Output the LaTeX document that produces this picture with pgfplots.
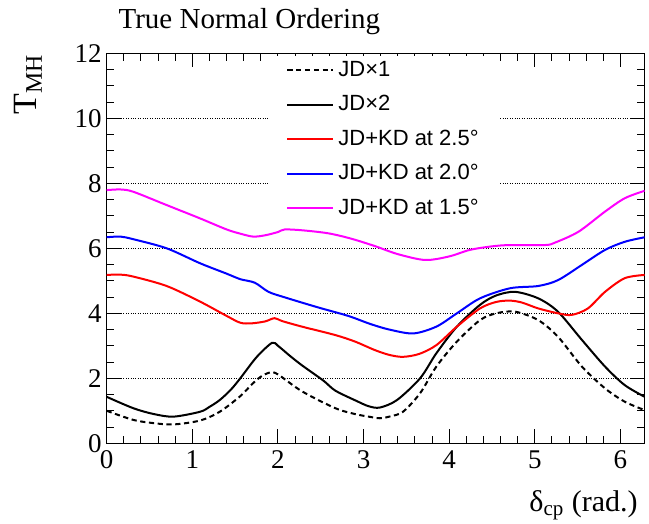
\documentclass[border=0pt]{standalone}
\usepackage{fontspec}
\setmainfont{Liberation Serif}
\newfontfamily\legendfont{Liberation Sans}
\usepackage{pgfplots}
\pgfplotsset{compat=1.18}
\definecolor{rootmagenta}{rgb}{1,0,1}

\begin{document}
\begin{tikzpicture}
\begin{axis}[
    scale only axis,
    width=269pt, height=195pt,
    xmin=0, xmax=6.2832,
    ymin=0, ymax=12,
    xtick={0,1,2,3,4,5,6},
    ytick={0,2,4,6,8,10,12},
    minor x tick num=4,
    minor y tick num=3,
    tick align=inside,
    xtick pos=both, ytick pos=both,
    major tick length=7pt,
    minor tick length=3.8pt,
    every tick/.style={black, line width=0.5pt},
    axis line style={line width=0.6pt},
    /pgf/number format/assume math mode=true,
    tick label style={font=\fontsize{13.5}{16}\selectfont},
    yticklabel style={xshift=1pt},
    ymajorgrids,
    grid style={black, line width=0.4pt, dash pattern=on 0.5pt off 0.7pt},
    title={True Normal Ordering},
    title style={at={(axis description cs:0.009,1.034)}, anchor=base west,
                 font=\fontsize{14.5}{17}\selectfont},
    xlabel={δ\textsubscript{cp} (rad.)},
    xlabel style={at={(axis description cs:1,-0.174)}, anchor=base east,
                  font=\fontsize{15}{18}\selectfont},
    ylabel={T\textsubscript{MH}},
    ylabel style={at={(axis description cs:-0.130,1.015)}, anchor=base east,
                  font=\fontsize{17}{20}\selectfont},
    legend cell align=left,
    legend image code/.code={\draw[#1] (0pt,0pt) -- (23pt,0pt);},
    legend style={at={(axis description cs:0.3035,0.993)}, anchor=north west,
                  draw=none, fill=white,
                  font=\legendfont\fontsize{11}{13}\selectfont,
                  inner xsep=8pt, inner ysep=0pt, row sep=3.25pt,
                  nodes={text height=8pt, text depth=2pt}},
    every axis plot/.append style={line width=1pt, smooth, tension=0.5},
]
% JD x1
\addplot[black, dash pattern=on 2.6pt off 1.8pt] coordinates {
 (0,1.0) (0.31,0.72) (0.55,0.62) (0.78,0.58) (1.09,0.70) (1.32,0.97)
 (1.56,1.45) (1.69,1.80) (1.80,2.05) (1.91,2.18) (2.0,2.12) (2.28,1.60)
 (2.67,1.08) (2.90,0.90) (3.06,0.82) (3.19,0.77) (3.30,0.82) (3.46,0.97)
 (3.66,1.54) (3.85,2.36) (4.09,3.13) (4.36,3.79) (4.55,4.0) (4.77,4.05)
 (5.04,3.79) (5.27,3.28) (5.55,2.36) (5.82,1.69) (6.05,1.28) (6.2832,1.02)
};
% JD x2
\addplot[black] coordinates {
 (0,1.43) (0.31,1.08) (0.55,0.90) (0.78,0.82) (1.09,0.97) (1.20,1.12)
 (1.32,1.33) (1.45,1.65) (1.56,2.0) (1.75,2.65) (1.93,3.09) (2.0,3.0)
 (2.14,2.69) (2.28,2.40) (2.53,1.93) (2.67,1.62) (2.92,1.30) (3.06,1.14)
 (3.19,1.10) (3.39,1.33) (3.66,2.0) (3.85,2.77) (4.09,3.59) (4.36,4.26)
 (4.55,4.55) (4.77,4.66) (5.04,4.46) (5.27,4.05) (5.55,3.18) (5.82,2.36)
 (6.05,1.79) (6.2832,1.43)
};
% JD+KD 2.5
\addplot[red] coordinates {
 (0,5.18) (0.16,5.19) (0.31,5.13) (0.70,4.84) (1.09,4.36) (1.40,3.92)
 (1.56,3.71) (1.69,3.69) (1.85,3.75) (1.96,3.85) (2.05,3.76) (2.28,3.59)
 (2.67,3.33) (2.90,3.13) (3.13,2.87) (3.30,2.72) (3.46,2.66) (3.65,2.75)
 (3.85,3.02) (4.09,3.59) (4.36,4.15) (4.55,4.35) (4.71,4.39) (4.85,4.33)
 (5.04,4.15) (5.27,4.0) (5.43,3.95) (5.62,4.15) (5.82,4.66) (6.05,5.08)
 (6.2832,5.18)
};
% JD+KD 2.0
\addplot[blue] coordinates {
 (0,6.34) (0.16,6.36) (0.31,6.28) (0.70,6.0) (1.09,5.54) (1.40,5.22)
 (1.56,5.05) (1.73,4.94) (1.89,4.66) (2.08,4.49) (2.47,4.18) (2.82,3.92)
 (3.08,3.67) (3.30,3.50) (3.58,3.38) (3.85,3.59) (4.09,4.0) (4.36,4.46)
 (4.71,4.77) (5.04,4.84) (5.27,5.02) (5.55,5.49) (5.82,5.95) (6.05,6.20)
 (6.2832,6.34)
};
% JD+KD 1.5
\addplot[rootmagenta] coordinates {
 (0,7.79) (0.16,7.81) (0.31,7.74) (0.70,7.33) (1.09,6.92) (1.40,6.58)
 (1.56,6.45) (1.71,6.36) (1.85,6.40) (2.0,6.50) (2.08,6.58) (2.30,6.55)
 (2.59,6.46) (2.85,6.30) (3.13,6.07) (3.40,5.82) (3.72,5.64) (4.0,5.75)
 (4.24,5.95) (4.50,6.06) (4.71,6.10) (5.12,6.10) (5.24,6.18) (5.51,6.51)
 (5.82,7.13) (6.05,7.54) (6.2832,7.77)
};
\legend{JD×1, JD×2, JD+KD at 2.5°, JD+KD at 2.0°, JD+KD at 1.5°}
\end{axis}
\pgfresetboundingbox
\path[use as bounding box] (-53.35pt,-40.35pt) rectangle (271.15pt,221.65pt);
\end{tikzpicture}
\end{document}
